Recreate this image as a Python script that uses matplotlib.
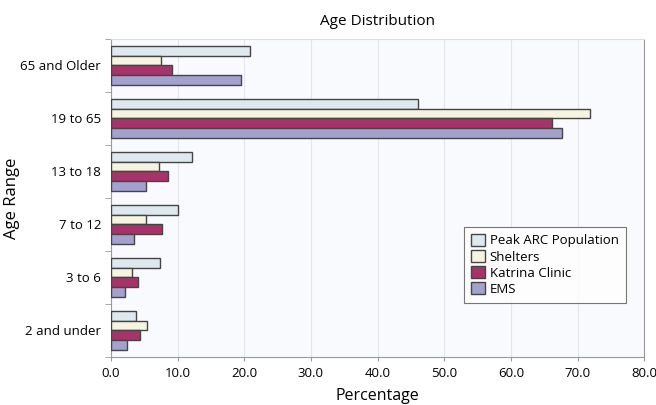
import numpy as np
import matplotlib
matplotlib.use("Agg")
import matplotlib.pyplot as plt
from matplotlib.patches import Patch

plt.rcParams["font.family"] = ["Open Sans", "DejaVu Sans"]

# ---- data ----
age_groups = ["65 and Older", "19 to 65", "13 to 18", "7 to 12", "3 to 6", "2 and under"]
series = ["Peak ARC Population", "Shelters", "Katrina Clinic", "EMS"]
peak_arc = [20.8, 46.1, 12.2, 10.0, 7.3, 3.7]
shelters = [7.5, 71.8, 7.2, 5.2, 3.2, 5.4]
katrina = [9.1, 66.1, 8.6, 7.6, 4.1, 4.4]
ems = [19.5, 67.7, 5.2, 3.4, 2.1, 2.4]
colors = ["#dde9ee", "#f6f4e1", "#a8336a", "#a3a2cf"]
xticks = np.arange(0, 81, 10)

values = [peak_arc, shelters, katrina, ems]

fig = plt.figure(figsize=(6.56, 4.05), dpi=100)
fig.patch.set_facecolor("white")
ax = fig.add_axes([0.169, 0.1185, 0.813, 0.7855])
ax.set_facecolor("#f8fafd")

bh = 0.185
y0 = np.arange(len(age_groups))
for i, (vals, col) in enumerate(zip(values, colors)):
    ax.barh(y0 + (i - 1.5) * bh, vals, height=bh, color=col,
            edgecolor="#454545", linewidth=1.0, zorder=3)

ax.set_ylim(len(age_groups) - 0.5, -0.5)
ax.set_yticks(y0)
ax.set_yticklabels(age_groups, fontsize=9.5)
ax.set_yticks(np.arange(-0.5, len(age_groups)), minor=True)
ax.tick_params(axis="y", which="major", length=0, pad=7)
ax.tick_params(axis="y", which="minor", length=4, color="#999999")

ax.set_xlim(0, 80)
ax.set_xticks(xticks)
ax.set_xticklabels([f"{v:.1f}" for v in xticks], fontsize=9.5)
ax.tick_params(axis="x", length=3, color="#999999", pad=4)
ax.grid(axis="x", color="#e3e6ec", linewidth=0.8, zorder=0)

ax.spines["top"].set_color("#dddddd")
ax.spines["top"].set_linewidth(0.8)
for s in ["left", "bottom", "right"]:
    ax.spines[s].set_color("#999999")
    ax.spines[s].set_linewidth(0.8)

ax.set_xlabel("Percentage", fontsize=11.5, labelpad=6)
ax.set_ylabel("Age Range", fontsize=12)
ax.yaxis.set_label_coords(-0.171, 0.5)
ax.set_title("Age Distribution", fontsize=11, pad=10)

handles = [Patch(facecolor=c, edgecolor="#454545", label=s) for c, s in zip(colors, series)]
leg = ax.legend(handles=handles, loc="upper left", bbox_to_anchor=(0.65, 0.43),
                fontsize=9.5, frameon=True, fancybox=False, borderpad=0.55,
                handlelength=1.0, handleheight=1.0, handletextpad=0.4, labelspacing=0.2)
leg.get_frame().set_edgecolor("#555555")
leg.get_frame().set_linewidth(0.8)
leg.get_frame().set_facecolor("white")

fig.savefig("out.png", dpi=100)
